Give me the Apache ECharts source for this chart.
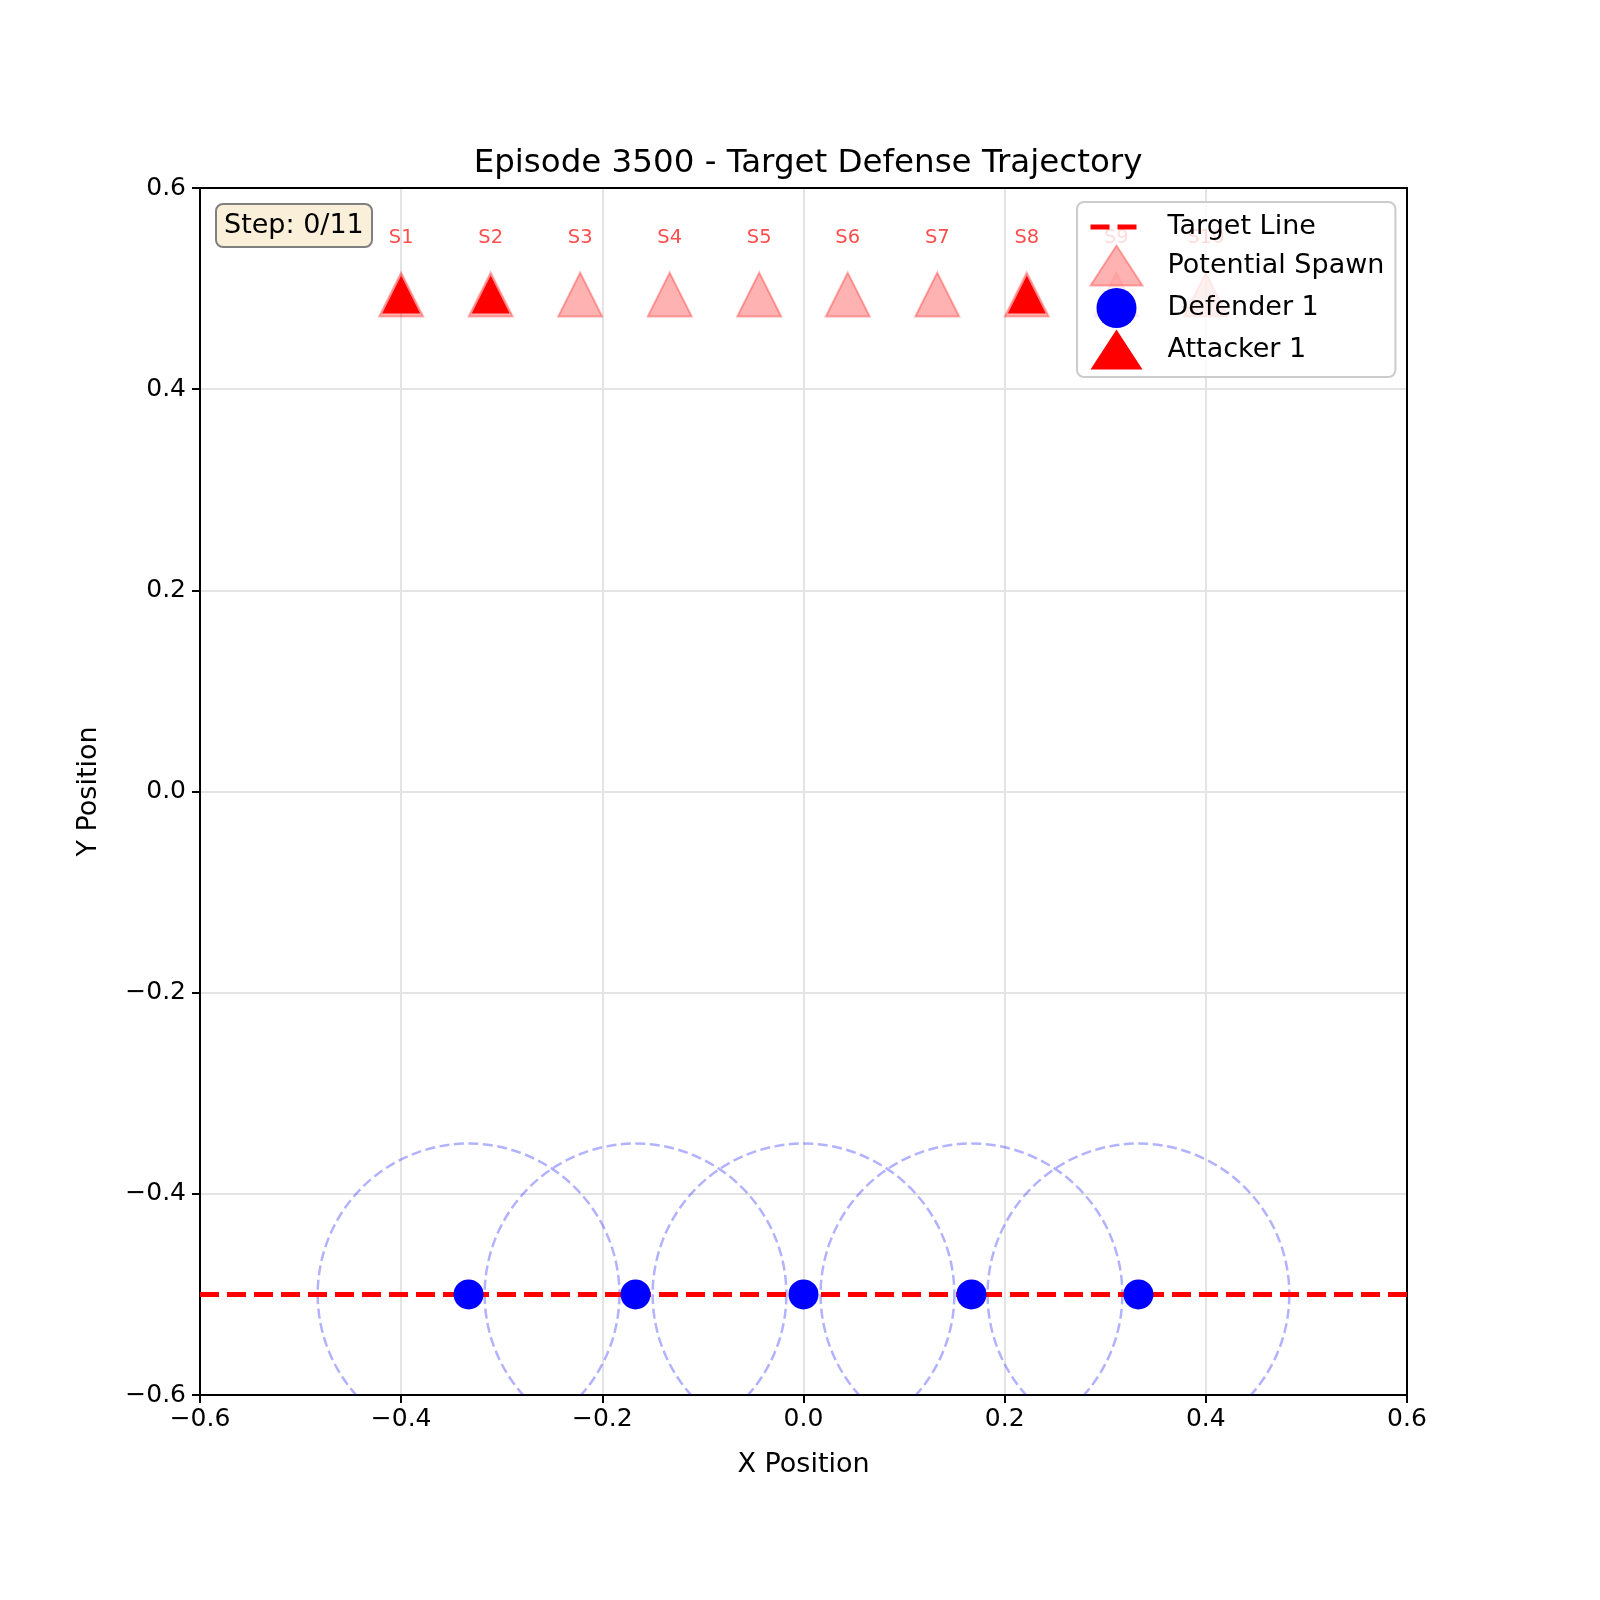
<!DOCTYPE html>
<html>
<head>
<meta charset="utf-8">
<script src="https://cdn.jsdelivr.net/npm/echarts@6/dist/echarts.min.js"></script>
<style>html,body{margin:0;padding:0;background:#fff}#c{width:1600px;height:1600px}</style>
</head>
<body>
<div id="c"></div>
<script>
// ---- data ----
var spawnX = [-0.4, -0.311, -0.222, -0.133, -0.044, 0.044, 0.133, 0.222, 0.311, 0.4];
var spawnY = 0.5;
var spawnLabels = ['S1','S2','S3','S4','S5','S6','S7','S8','S9','S10'];
var attackerX = [-0.4, -0.311, 0.222];
var attackerY = 0.5;
var defenderX = [-0.333, -0.167, 0.0, 0.167, 0.333];
var defenderY = -0.5;
var captureRadius = 0.15;
var targetLineX = [-0.6, 0.6];
var targetLineY = -0.5;
var stepText = 'Step: 0/11';

var FONT = 'DejaVu Sans';
function fmt(v){ var s = (Math.round(v*10)/10).toFixed(1); return s.replace('-', '\u2212'); }

var spawnData = spawnX.map(function(x,i){ return {value:[x, spawnY], name: spawnLabels[i]}; });
var attackerData = attackerX.map(function(x){ return [x, attackerY]; });
var defenderData = defenderX.map(function(x){ return [x, defenderY]; });
var circleData = defenderX.map(function(x){ return [x, defenderY, captureRadius]; });
var lineData = targetLineX.map(function(x){ return [x, targetLineY]; });

var frameAxis = {
  axisLine: {show: true, onZero: false, lineStyle: {color: '#000', width: 2}},
  axisTick: {show: false}, axisLabel: {show: false}, splitLine: {show: false}
};

var chart = echarts.init(document.getElementById('c'), null, {renderer:'canvas'});
chart.setOption({
  animation: false,
  backgroundColor: '#ffffff',
  textStyle: {fontFamily: FONT},
  title: [
    {text: 'Episode 3500 - Target Defense Trajectory', left: 803, top: 142, textAlign: 'center',
     textStyle: {fontFamily: FONT, fontSize: 32.5, fontWeight: 'normal', color: '#000'}},
    {text: stepText, left: 216, top: 204, padding: [6, 8, 5, 8], z: 10,
     backgroundColor: '#faefd9', borderColor: '#808080', borderWidth: 2, borderRadius: 7,
     textStyle: {fontFamily: FONT, fontSize: 27, fontWeight: 'normal', color: '#000', lineHeight: 32}}
  ],
  grid: {left: 200, right: 193, top: 188, bottom: 205},
  legend: {
    orient: 'vertical', left: 1077, top: 202, z: 20,
    data: [
      {name: 'Target Line', itemStyle: {opacity: 0}, lineStyle: {width: 5, type: [19, 8], color: '#ff0000'}},
      'Potential Spawn', 'Defender 1', 'Attacker 1'
    ],
    itemWidth: 52, itemHeight: 40, itemGap: 1.5,
    padding: [9, 11, 7.5, 11],
    backgroundColor: 'rgba(255,255,255,0.8)', borderColor: '#cccccc', borderWidth: 2, borderRadius: 7,
    textStyle: {fontFamily: FONT, fontSize: 27, color: '#000', padding: [0, 0, 0, 20]}
  },
  xAxis: [{
    type: 'value', min: -0.6, max: 0.6, interval: 0.2, position: 'bottom',
    name: 'X Position', nameLocation: 'middle', nameGap: 56,
    nameTextStyle: {fontFamily: FONT, fontSize: 27, color: '#000'},
    axisLine: {show: true, onZero: false, lineStyle: {color: '#000', width: 2}},
    axisTick: {show: true, inside: false, length: 8, lineStyle: {color: '#000', width: 2}},
    axisLabel: {formatter: fmt, margin: 12, fontFamily: FONT, fontSize: 25, color: '#000'},
    splitLine: {show: true, lineStyle: {color: '#e4e4e4', width: 2}}
  }, Object.assign({type: 'value', min: -0.6, max: 0.6, position: 'top'}, frameAxis)],
  yAxis: [{
    type: 'value', min: -0.6, max: 0.6, interval: 0.2, position: 'left',
    name: 'Y Position', nameLocation: 'middle', nameGap: 98, nameRotate: 90,
    nameTextStyle: {fontFamily: FONT, fontSize: 27, color: '#000'},
    axisLine: {show: true, onZero: false, lineStyle: {color: '#000', width: 2}},
    axisTick: {show: true, inside: false, length: 8, lineStyle: {color: '#000', width: 2}},
    axisLabel: {formatter: fmt, margin: 14, fontFamily: FONT, fontSize: 25, color: '#000'},
    splitLine: {show: true, lineStyle: {color: '#e4e4e4', width: 2}}
  }, Object.assign({type: 'value', min: -0.6, max: 0.6, position: 'right'}, frameAxis)],
  series: [
    {
      type: 'custom', name: 'Capture Radius', data: circleData, z: 2,
      renderItem: function(params, api){
        var c = api.coord([api.value(0), api.value(1)]);
        var r = api.size([api.value(2), 0])[0];
        var cs = params.coordSys;
        return {
          type: 'group',
          clipPath: {type: 'rect', shape: {x: cs.x, y: cs.y, width: cs.width, height: cs.height}},
          children: [{
            type: 'circle', shape: {cx: c[0], cy: c[1], r: r},
            style: {fill: 'none', stroke: 'rgba(0,0,255,0.3)', lineWidth: 2.5, lineDash: [10, 4.5]}
          }]
        };
      }
    },
    {
      type: 'line', name: 'Target Line', data: lineData, symbol: 'none', z: 2,
      lineStyle: {color: '#ff0000', width: 5, type: [19, 8]},
      itemStyle: {color: '#ff0000'}
    },
    {
      type: 'scatter', name: 'Defender 1', data: defenderData, symbol: 'circle', symbolSize: 30, z: 3,
      itemStyle: {color: '#0000ff', opacity: 1}
    },
    {
      type: 'scatter', name: 'Potential Spawn', data: spawnData, symbol: 'triangle', symbolSize: 44,
      symbolOffset: [0, 6], z: 3,
      itemStyle: {color: 'rgba(255,0,0,0.3)', borderColor: 'rgba(255,0,0,0.3)', borderWidth: 2, opacity: 1},
      label: {show: true, position: 'top', distance: 24, formatter: '{b}', fontFamily: FONT, fontSize: 19.5, color: 'rgba(255,0,0,0.7)'}
    },
    {
      type: 'scatter', name: 'Attacker 1', data: attackerData, symbol: 'triangle', symbolSize: 38,
      symbolOffset: [0, 6], z: 4,
      itemStyle: {color: '#ff0000', opacity: 1}
    }
  ]
});
</script>
</body>
</html>
